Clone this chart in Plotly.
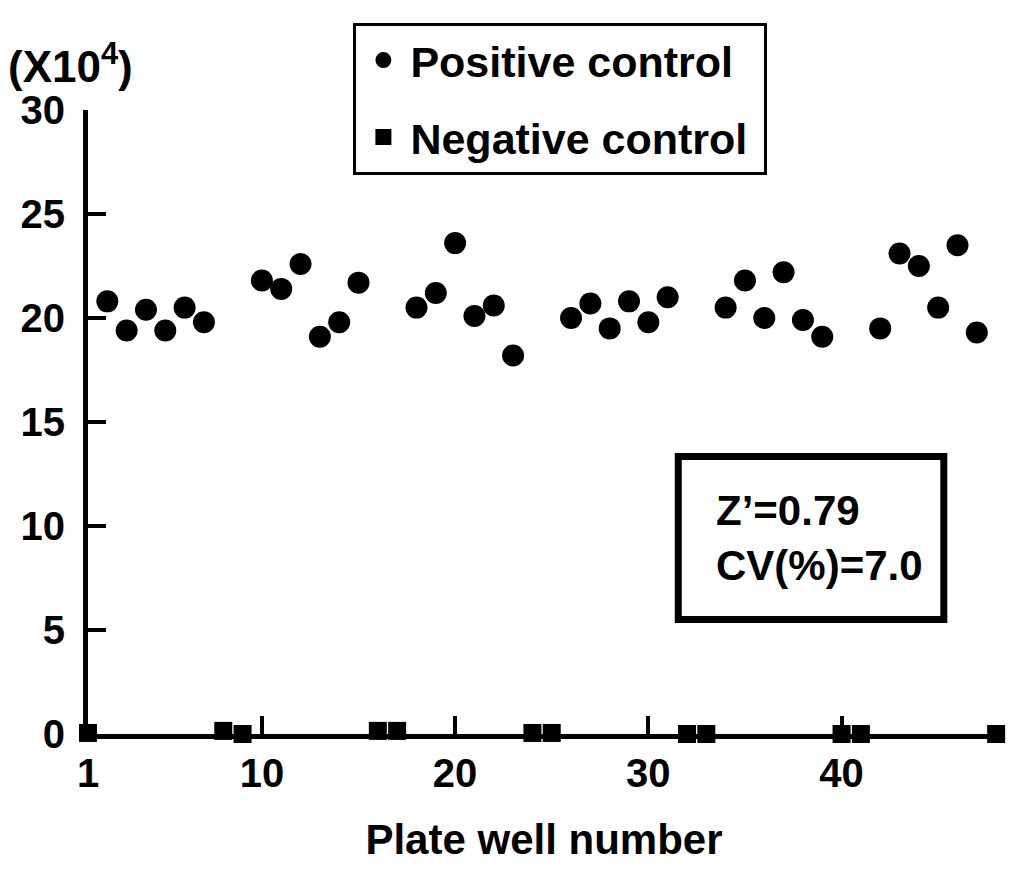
import plotly.graph_objects as go

# well numbers on the plate (1-48)
pos_wells = [2, 3, 4, 5, 6, 7,
             10, 11, 12, 13, 14, 15,
             18, 19, 20, 21, 22, 23,
             26, 27, 28, 29, 30, 31,
             34, 35, 36, 37, 38, 39,
             42, 43, 44, 45, 46, 47]
neg_wells = [1, 8, 9, 16, 17, 24, 25, 32, 33, 40, 41, 48]

# signal (x10^4)
pos_values = [20.8, 19.4, 20.4, 19.4, 20.5, 19.8,
              21.8, 21.4, 22.6, 19.1, 19.8, 21.7,
              20.5, 21.2, 23.6, 20.1, 20.6, 18.2,
              20.0, 20.7, 19.5, 20.8, 19.8, 21.0,
              20.5, 21.8, 20.0, 22.2, 19.9, 19.1,
              19.5, 23.1, 22.5, 20.5, 23.5, 19.3]
neg_values = [0.05, 0.15, 0.0, 0.15, 0.15, 0.05, 0.05, 0.0, 0.0, 0.0, 0.0, 0.0]

x_ticks = [1, 10, 20, 30, 40]
y_ticks = [0, 5, 10, 15, 20, 25, 30]

FONT = "Arial, Liberation Sans, sans-serif"
NBSP = "\u00a0"

fig = go.Figure()

fig.add_trace(go.Scatter(
    x=pos_wells, y=pos_values,
    mode='markers',
    name='Positive control' + NBSP,
    marker=dict(symbol='circle', size=22, color='black'),
    cliponaxis=False,
    legendgroup='a'
))

fig.add_trace(go.Scatter(
    x=neg_wells, y=neg_values,
    mode='markers',
    name='Negative control' + NBSP,
    marker=dict(symbol='square', size=18, color='black'),
    cliponaxis=False,
    legendgroup='b'
))

# page has an 8px body margin, so the figure is sized to fit inside it
fig.update_layout(
    width=1008, height=861,
    margin=dict(l=75, r=16, t=102, b=135),
    paper_bgcolor='white',
    plot_bgcolor='white',
    font=dict(family=FONT, size=42, color='black', weight='bold'),
    showlegend=True,
    legend=dict(
        x=0.291, y=1.14, xanchor='left', yanchor='top',
        bordercolor='black', borderwidth=3,
        font=dict(size=43, weight='bold'),
        traceorder='grouped', tracegroupgap=18,
        itemwidth=44,
        bgcolor='white'
    ),
    xaxis=dict(
        range=[1, 48.2],
        tickvals=x_ticks,
        ticks='inside', ticklen=18, tickwidth=4, tickcolor='black',
        showline=True, linewidth=5, linecolor='black',
        showgrid=False, zeroline=False,
        tickfont=dict(size=40, weight='bold'),
        title=dict(text='Plate well number', standoff=32,
                   font=dict(size=42, weight='bold'))
    ),
    yaxis=dict(
        range=[0, 30],
        tickvals=y_ticks,
        ticks='inside', ticklen=18, tickwidth=4, tickcolor='black',
        showline=True, linewidth=5, linecolor='black',
        showgrid=False, zeroline=False,
        tickfont=dict(size=40, weight='bold'),
        ticklabelstandoff=10
    )
)

# unit label above the y axis
fig.add_annotation(
    xref='paper', yref='paper', x=-0.09, y=1.075,
    xanchor='left', yanchor='middle', showarrow=False,
    text='(X10<sup>4</sup>)', font=dict(size=44, weight='bold')
)

# stats box
fig.add_shape(
    type='rect', xref='paper', yref='paper',
    x0=0.6472, x1=0.9384, y0=0.1835, y1=0.4447,
    line=dict(color='black', width=7), fillcolor='white', layer='below'
)
fig.add_annotation(
    xref='paper', yref='paper', x=0.686, y=0.314,
    xanchor='left', yanchor='middle', showarrow=False, align='left',
    text='Z’=0.79<br>CV(%)=7.0', font=dict(size=42, weight='bold')
)

fig.write_html("out.html")
